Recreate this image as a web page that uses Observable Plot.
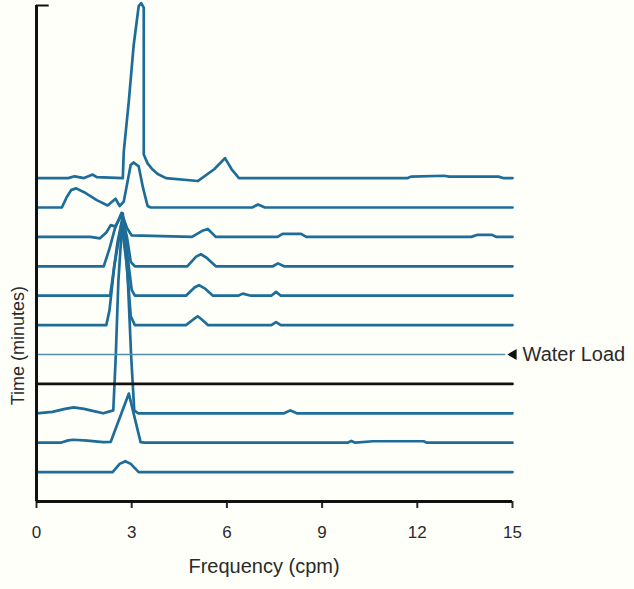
<!DOCTYPE html>
<html>
<head>
<meta charset="utf-8">
<script src="https://cdn.jsdelivr.net/npm/d3@7"></script>
<script src="https://cdn.jsdelivr.net/npm/@observablehq/plot@0.6"></script>
<style>
  html, body { margin: 0; padding: 0; background: #fffffa; }
  #chart svg g[aria-label="x-axis tick"] path,
  #chart svg g[aria-label="x-axis"] line { stroke-width: 2px; }
</style>
</head>
<body>
<div id="chart"></div>
<script>
// x axis ticks (cpm)
const xTicks = [0, 3, 6, 9, 12, 15];
const xLabel = "Frequency (cpm)";
const yLabel = "Time (minutes)";
const annotation = "Water Load";

// Each trace: [frequency (cpm), amplitude above its baseline]; trace 1 is the bottom one
const trace1 = [[0,0],[2.4,0],[2.62,0.28],[2.8,0.37],[2.97,0.28],[3.22,0],[15,0]];
const trace2 = [[0,0],[0.76,0],[1.0,0.08],[1.17,0.1],[1.6,0.07],[2.1,0.02],[2.34,0.03],[2.91,1.67],[3.28,0.02],[3.4,0],[9.8,0],[9.92,0.06],[10.05,0],[10.6,0.05],[12.2,0.05],[12.3,0],[15,0]];
const trace3 = [[0,0],[0.5,0.05],[0.9,0.15],[1.17,0.2],[1.5,0.15],[1.7,0.1],[2.1,0],[2.42,0.1],[2.5,2],[2.58,4.5],[2.72,6.8],[2.88,4.5],[2.98,2],[3.08,0.1],[3.2,0],[7.8,0],[8.0,0.1],[8.2,0],[15,0]];
const trace4 = [[0,0],[15,0]];
const trace5 = [[0,0],[14.75,0]];
const trace6 = [[0,0],[2.2,0],[2.3,0.5],[2.45,2],[2.68,3.45],[2.85,2],[2.97,0.3],[3.1,0],[4.71,0],[4.95,0.2],[5.08,0.3],[5.2,0.2],[5.4,0],[7.4,0],[7.55,0.1],[7.7,0],[15,0]];
const trace7 = [[0,0],[2.32,0],[2.4,0.6],[2.55,1.8],[2.7,2.6],[2.85,1.5],[3.0,0.2],[3.1,0],[4.71,0],[4.98,0.28],[5.12,0.36],[5.3,0.25],[5.56,0],[6.35,0],[6.5,0.07],[6.76,0],[7.4,0],[7.55,0.13],[7.7,0],[15,0]];
const trace8 = [[0,0],[2.12,0],[2.3,0.6],[2.5,1.4],[2.68,1.73],[2.85,1.0],[2.97,0.15],[3.1,0],[4.75,0],[5.03,0.33],[5.18,0.41],[5.35,0.3],[5.65,0],[7.45,0],[7.61,0.1],[7.8,0],[15,0]];
const trace9 = [[0,0],[1.7,0],[2.0,-0.05],[2.2,0.15],[2.34,0.4],[2.5,0.35],[2.68,0.82],[2.85,0.3],[3.0,0.05],[4.9,0],[5.25,0.22],[5.4,0.27],[5.65,0],[7.6,0],[7.75,0.1],[8.34,0.1],[8.5,0],[13.7,0],[13.9,0.07],[14.34,0.07],[14.5,0],[15,0]];
const trace10 = [[0,0],[0.8,0],[0.95,0.35],[1.1,0.6],[1.25,0.65],[1.5,0.52],[1.9,0.25],[2.24,0.07],[2.49,0.3],[2.62,0.05],[2.75,0.2],[2.97,1.45],[3.06,1.53],[3.22,1.4],[3.35,0.7],[3.5,0.05],[3.6,0],[6.8,0],[6.98,0.1],[7.2,0],[15,0]];
const trace11 = [[0,0],[1.0,0],[1.2,0.06],[1.5,0],[1.77,0.12],[1.9,0.03],[2.72,0],[2.75,0.9],[2.91,2.63],[3.06,4.5],[3.22,5.85],[3.3,5.95],[3.38,5.8],[3.38,0.8],[3.5,0.5],[3.65,0.3],[3.82,0.14],[4.08,0],[5.08,-0.1],[5.6,0.3],[5.94,0.68],[6.15,0.3],[6.38,0],[11.7,0],[11.8,0.05],[12.85,0.08],[13.0,0.05],[14.56,0.05],[14.7,0],[15,0]];

const traces = [trace1, trace2, trace3, trace4, trace5, trace6, trace7, trace8, trace9, trace10, trace11];
const blackTrace = 4;       // flat black line
const waterLoadTrace = 5;   // thin line marked "Water Load"
const yMax = 16.87;

const rows = traces.flatMap((pts, i) =>
  pts.map(([f, a]) => ({trace: i + 1, f, y: i + 1 + a}))
);
const blue = rows.filter(d => d.trace !== blackTrace && d.trace !== waterLoadTrace);
const black = rows.filter(d => d.trace === blackTrace);
const water = rows.filter(d => d.trace === waterLoadTrace);
const waterEnd = water[water.length - 1];

const font = "'Liberation Sans', Arial, Helvetica, sans-serif";

const chart = Plot.plot({
  width: 634,
  height: 589,
  marginTop: 5,
  marginBottom: 88,
  marginLeft: 36,
  marginRight: 122,
  style: {background: "#fffffa", fontFamily: font, fontSize: "17px", color: "#2a2a2a", overflow: "visible"},
  x: {domain: [xTicks[0], xTicks[xTicks.length - 1]], ticks: xTicks, tickSize: 7, tickPadding: 17, label: null, tickFormat: d => String(d)},
  y: {domain: [0, yMax], axis: null},
  marks: [
    Plot.line(blue, {x: "f", y: "y", z: "trace", stroke: "#1e6c98", strokeWidth: 2.7, strokeLinejoin: "round"}),
    Plot.line(water, {x: "f", y: "y", stroke: "#4f8ea6", strokeWidth: 1.5}),
    Plot.line(black, {x: "f", y: "y", stroke: "#111", strokeWidth: 2.7}),
    Plot.ruleX([xTicks[0]], {stroke: "#111", strokeWidth: 3}),
    Plot.ruleY([0], {stroke: "#111", strokeWidth: 3}),
    Plot.ruleY([yMax], {x1: 0, x2: 0.4, stroke: "#111", strokeWidth: 2}),
    Plot.dot([waterEnd], {x: () => xTicks[xTicks.length - 1], y: "y", symbol: "triangle", r: 4, rotate: -90, fill: "#111", stroke: null, dx: 1}),
    Plot.text([annotation], {x: () => xTicks[xTicks.length - 1], y: () => waterEnd.y, text: d => d, textAnchor: "start", dx: 10, fontSize: 20, fill: "#2a2a2a"}),
    Plot.text([xLabel], {x: () => 7.17, frameAnchor: "bottom", text: d => d, dy: 71, fontSize: 20, fill: "#2a2a2a"}),
    Plot.text([yLabel], {y: () => 5.3, frameAnchor: "left", text: d => d, textAnchor: "middle", dx: -18, rotate: -90, fontSize: 18, fill: "#2a2a2a"})
  ]
});
document.getElementById("chart").appendChild(chart);
</script>
</body>
</html>
